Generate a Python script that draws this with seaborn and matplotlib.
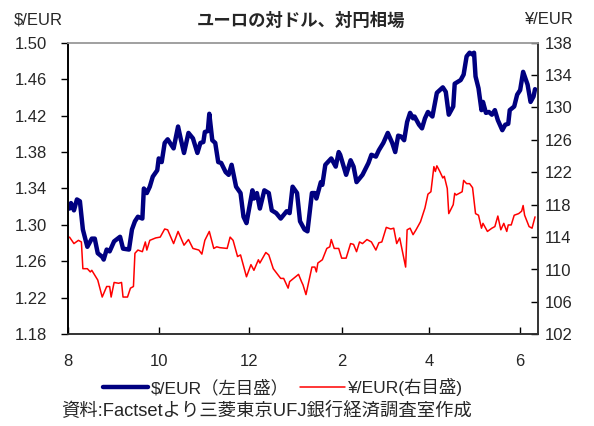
import matplotlib
matplotlib.use("Agg")
import matplotlib.pyplot as plt
import seaborn as sns
import pandas as pd
from matplotlib.lines import Line2D

start = pd.Timestamp("2010-08-01")

usd_days = [1, 2, 4, 6, 8, 10, 13, 16, 18, 20, 23, 24, 26, 28, 31, 35, 37, 41, 43, 45, 47, 50, 51, 53, 55, 57, 60,
            61, 63, 65, 67, 71, 74, 76, 78, 81, 84, 87, 89, 91, 92, 94, 95, 97, 99, 101, 103, 106, 108, 110, 113,
            116, 118, 120, 124, 125, 127, 129, 132, 135, 137, 140, 143, 147, 149, 151, 154, 156, 159, 161, 164,
            166, 167, 170, 171, 173, 177, 180, 182, 183, 185, 187, 190, 192, 194, 198, 202, 204, 207, 209, 212,
            215, 218, 220, 222, 224, 226, 228, 230, 232, 233, 236, 238, 240, 242, 245, 248, 252, 254, 256, 259,
            260, 264, 266, 268, 269, 270, 272, 273, 274, 276, 278, 279, 281, 283, 285, 287, 289, 292, 294, 296,
            297, 300, 302, 304, 306, 309, 311, 313, 314]
usd_eur = [1.318, 1.324, 1.316, 1.328, 1.326, 1.295, 1.276, 1.285, 1.285, 1.269, 1.265, 1.262, 1.273, 1.271,
           1.282, 1.287, 1.274, 1.273, 1.295, 1.304, 1.309, 1.307, 1.340, 1.335, 1.342, 1.353, 1.360, 1.373,
           1.369, 1.390, 1.394, 1.384, 1.408, 1.393, 1.379, 1.401, 1.395, 1.379, 1.390, 1.391, 1.402, 1.403,
           1.422, 1.393, 1.390, 1.369, 1.368, 1.358, 1.355, 1.366, 1.342, 1.335, 1.309, 1.302, 1.338, 1.329,
           1.335, 1.318, 1.338, 1.335, 1.316, 1.313, 1.307, 1.315, 1.313, 1.342, 1.335, 1.304, 1.295, 1.293,
           1.335, 1.335, 1.329, 1.347, 1.344, 1.366, 1.373, 1.364, 1.380, 1.377, 1.366, 1.355, 1.371, 1.364,
           1.347, 1.355, 1.368, 1.377, 1.375, 1.382, 1.390, 1.401, 1.390, 1.380, 1.398, 1.397, 1.393, 1.413,
           1.423, 1.417, 1.419, 1.410, 1.406, 1.417, 1.424, 1.419, 1.445, 1.451, 1.446, 1.421, 1.430, 1.455,
           1.459, 1.465, 1.485, 1.487, 1.489, 1.487, 1.489, 1.463, 1.450, 1.426, 1.435, 1.423, 1.424, 1.421,
           1.426, 1.415, 1.404, 1.410, 1.411, 1.426, 1.430, 1.443, 1.448, 1.468, 1.454, 1.435, 1.441, 1.449]

jpy_days = [1, 4, 7, 9, 10, 13, 15, 16, 18, 20, 23, 26, 28, 29, 31, 34, 36, 37, 40, 42, 44, 45, 47, 50, 52, 53,
            55, 59, 62, 65, 67, 71, 74, 78, 81, 84, 88, 90, 92, 95, 98, 100, 102, 107, 109, 111, 114, 116, 120,
            123, 125, 128, 129, 133, 135, 138, 143, 145, 148, 149, 155, 157, 158, 160, 164, 166, 167, 168, 171,
            174, 176, 177, 179, 182, 184, 187, 190, 192, 194, 196, 198, 201, 204, 207, 209, 211, 214, 217, 219,
            221, 223, 225, 227, 228, 230, 232, 234, 237, 240, 242, 244, 246, 247, 248, 250, 252, 253, 255, 256,
            259, 260, 261, 265, 266, 268, 270, 272, 274, 276, 278, 279, 282, 285, 287, 289, 291, 293, 295, 296,
            298, 300, 303, 305, 306, 307, 310, 312, 314]
jpy_eur = [114.0, 113.2, 113.6, 113.4, 110.1, 110.1, 109.7, 109.9, 109.3, 108.7, 106.6, 107.9, 107.9, 106.6,
           108.4, 108.3, 108.4, 106.6, 106.6, 107.7, 107.9, 112.0, 112.4, 112.2, 113.4, 112.4, 113.6, 113.9,
           114.0, 115.0, 114.9, 113.2, 114.7, 113.0, 113.7, 112.6, 112.4, 111.9, 113.6, 114.7, 112.6, 112.8,
           112.7, 112.6, 114.0, 113.6, 111.6, 111.8, 109.1, 110.6, 109.9, 111.2, 110.8, 112.1, 111.8, 110.1,
           108.9, 108.9, 107.7, 108.5, 109.4, 108.5, 108.1, 106.9, 110.3, 110.3, 109.7, 110.8, 111.2, 112.6,
           112.8, 113.7, 112.6, 112.6, 111.4, 111.4, 113.2, 113.1, 112.2, 113.4, 113.2, 113.7, 113.4, 112.4,
           113.3, 113.4, 115.2, 115.0, 115.1, 113.2, 113.9, 112.1, 110.3, 114.9, 115.1, 114.3, 114.9, 115.9,
           117.6, 119.3, 119.6, 122.7, 122.1, 122.8, 122.1, 121.3, 121.5, 120.0, 116.9, 118.0, 119.4, 119.2,
           119.6, 121.0, 120.6, 120.6, 120.1, 116.9, 116.7, 115.1, 115.7, 114.7, 115.1, 115.3, 116.6, 114.9,
           115.7, 114.7, 115.5, 115.5, 116.7, 116.9, 117.2, 117.9, 116.7, 115.3, 115.1, 116.5]

tick_dates = ["2010-08-01", "2010-10-01", "2010-12-01", "2011-02-01", "2011-04-01", "2011-06-01"]
tick_labels = ["8", "10", "12", "2", "4", "6"]
left_ticks = [1.18, 1.22, 1.26, 1.30, 1.34, 1.38, 1.42, 1.46, 1.50]
right_ticks = [102, 106, 110, 114, 118, 122, 126, 130, 134, 138]

title = "ユーロの対ドル、対円相場"
left_unit = "$/EUR"
right_unit = "¥/EUR"
label_usd = "$/EUR（左目盛）"
label_jpy = "¥/EUR(右目盛)"
source = "資料:Factsetより三菱東京UFJ銀行経済調査室作成"

sns.set_theme(style="white")
plt.rcParams["font.family"] = ["Liberation Sans", "Noto Sans CJK JP", "DejaVu Sans"]

df_usd = pd.DataFrame({"date": start + pd.to_timedelta(usd_days, unit="D"), "value": usd_eur})
df_jpy = pd.DataFrame({"date": start + pd.to_timedelta(jpy_days, unit="D"), "value": jpy_eur})

fig = plt.figure(figsize=(5.94, 4.26), dpi=100)
ax = fig.add_axes([68 / 594, 1 - 334.3 / 426, (538 - 68) / 594, (334.3 - 42.7) / 426])
ax2 = ax.twinx()

navy = "#000080"
red = "#FF0000"
sns.lineplot(data=df_usd, x="date", y="value", ax=ax, color=navy, linewidth=3.2, estimator=None, sort=False)
sns.lineplot(data=df_jpy, x="date", y="value", ax=ax2, color=red, linewidth=1.1, estimator=None, sort=False)

ax.set_xlim(start, start + pd.Timedelta(days=316))
ax.set_ylim(1.18, 1.50)
ax2.set_ylim(102, 138)
ax.set_xticks(pd.to_datetime(tick_dates))
ax.set_xticklabels(tick_labels)
ax.set_yticks(left_ticks)
ax.set_yticklabels([f"{t:.2f}" for t in left_ticks])
ax2.set_yticks(right_ticks)
ax2.set_yticklabels([str(t) for t in right_ticks])
for a in (ax, ax2):
    a.set_xlabel("")
    a.set_ylabel("")
    a.grid(False)

fs = 12
ax.tick_params(axis="y", direction="out", length=5, width=1, color="black", labelsize=fs, pad=10, left=True)
ax.tick_params(axis="x", direction="in", length=5, width=1, color="black", labelsize=fs, pad=14, bottom=True)
ax2.tick_params(axis="y", direction="in", length=5, width=1, color="black", labelsize=fs, pad=5, right=True)

for a in (ax, ax2):
    a.spines["top"].set_color("#a0a0a0")
    a.spines["left"].set_color("black")
    a.spines["bottom"].set_color("#333333")
    a.spines["right"].set_color("#333333")
    for s in a.spines.values():
        s.set_linewidth(1.2)

fig.text(38 / 594, 1 - 20 / 426, left_unit, fontsize=fs, ha="center", va="center")
fig.text(548 / 594, 1 - 20 / 426, right_unit, fontsize=fs, ha="center", va="center")
fig.text(301 / 594, 1 - 20 / 426, title, fontsize=12.5, fontweight="bold", ha="center", va="center")

handles = [Line2D([], [], color=navy, linewidth=3.2), Line2D([], [], color=red, linewidth=1.1)]
fig.legend(handles, [label_usd, label_jpy], loc="center", bbox_to_anchor=(283 / 594, 1 - 387 / 426),
           ncol=2, frameon=False, fontsize=12.5, handlelength=2.6, handletextpad=0.2, columnspacing=0.6)
fig.text(61 / 594, 1 - 411 / 426, source, fontsize=13.2, ha="left", va="center")

fig.savefig("out.png", dpi=100)
